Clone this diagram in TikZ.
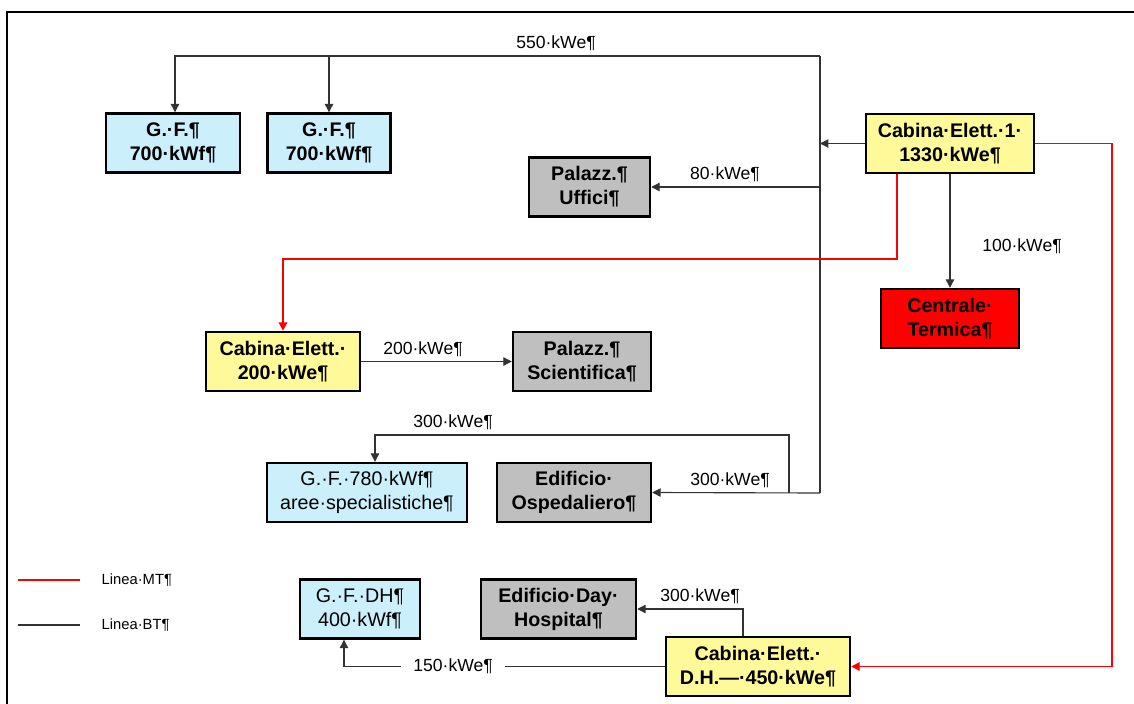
\documentclass[tikz,border=0pt]{standalone}
\usepackage{fontspec}
\setmainfont{Liberation Sans}
\usetikzlibrary{arrows.meta,positioning}

\tikzset{
	plant/.style={draw, line width=1.7pt, inner sep=0pt, align=center, minimum height=1.475cm, font=\fontsize{14}{17}\selectfont\bfseries},
	gfbox/.style={plant, fill=cyan!20},
	gfthin/.style={gfbox, font=\fontsize{14}{17}\selectfont},
	cabbox/.style={plant, fill=yellow!40},
	edbox/.style={plant, fill=black!25},
	ctbox/.style={plant, fill=red},
	bt/.style={draw=black!80, line width=0.8pt, -{Triangle[length=6pt,width=6pt]}},
	btline/.style={draw=black!80, line width=0.8pt},
	mt/.style={draw=red, line width=1.4pt, -{Triangle[length=6pt,width=6pt]}},
	mtline/.style={draw=red, line width=1.4pt},
	kw/.style={font=\fontsize{12.5}{14}\selectfont, inner sep=1pt}
}

\begin{document}
\begin{tikzpicture}[x=0.025cm, y=-0.025cm]
	\useasboundingbox (0,0) rectangle (1134,704);
	\draw[line width=1.4pt] (7,704) -- (7,12) -- (1134,12);

	\node[gfbox, minimum width=3.35cm] (gfA) at (173,143) {G.·F.¶\\700·kWf¶};
	\node[gfbox, minimum width=3.075cm] (gfB) at (329,143) {G.·F.¶\\700·kWf¶};
	\node[cabbox, minimum width=4.2cm] (cabUno) at (950,143.5) {Cabina·Elett.·1·\\1330·kWe¶};
	\node[edbox, minimum width=3.025cm] (uffici) at (589.5,187) {Palazz.¶\\Uffici¶};
	\node[ctbox, minimum width=3.45cm] (termica) at (950,318.5) {Centrale·\\Termica¶};
	\node[cabbox, minimum width=3.85cm] (cabDue) at (283,361.5) {Cabina·Elett.·\\200·kWe¶};
	\node[edbox, minimum width=3.45cm] (scient) at (582,361.5) {Palazz.¶\\Scientifica¶};
	\node[gfthin, minimum width=5cm] (gfSpec) at (367,492.5) {G.·F.·780·kWf¶\\aree·specialistiche¶};
	\node[edbox, minimum width=3.85cm] (osped) at (574,492.5) {Edificio·\\Ospedaliero¶};
	\node[gfthin, minimum width=3cm] (gfDH) at (360,609) {G.·F.·DH¶\\400·kWf¶};
	\node[edbox, minimum width=3.875cm] (dayHosp) at (558.5,609) {Edificio·Day·\\Hospital¶};
	\node[cabbox, minimum width=4.6cm] (cabDH) at (758,666.5) {Cabina·Elett.·\\D.H.—·450·kWe¶};

	\coordinate (busTop) at (820,56);
	\coordinate (busBot) at (820,493);
	\coordinate (tapSpec) at (789,493);
	\coordinate (mtRight) at (1112,400);

	\draw[btline] (busTop) -- (busBot);
	\draw[bt] (busTop) -| ([xshift=0.05cm]gfA.north);
	\draw[bt] (busTop -| gfB.north) -- (gfB.north);
	\node[kw] (kwA) at (556,43) {550·kWe¶};
	\draw[bt] (cabUno.west) -- (cabUno.west -| busTop);
	\draw[bt] (busTop |- uffici.east) -- (uffici.east);
	\node[kw] (kwB) at (725,174) {80·kWe¶};
	\draw[bt] (busBot) -- (osped.east);
	\node[kw] (kwC) at (730,480) {300·kWe¶};
	\draw[bt] (tapSpec) -- ++(0,-58) -| ([xshift=0.2cm]gfSpec.north);
	\node[kw] (kwD) at (453,422) {300·kWe¶};
	\draw[bt] (cabUno.south) -- (termica.north);
	\node[kw] (kwE) at (1022,246) {100·kWe¶};
	\draw[bt] (cabDue.east) -- (scient.west);
	\node[kw] (kwF) at (423,349) {200·kWe¶};
	\draw[bt] ([xshift=-0.375cm]cabDH.north) |- (dayHosp.east);
	\node[kw] (kwG) at (700,596) {300·kWe¶};
	\draw[bt] (cabDH.west) -| node[kw, pos=0.33, fill=white, inner xsep=0.3cm] (kwH) {150·kWe¶} ([xshift=-0.4cm]gfDH.south);

	\draw[mt] ([xshift=-1.325cm]cabUno.south) |- (cabDue.north |- 0,259) -- (cabDue.north);
	\draw[mt] (cabUno.east) -| (mtRight) |- (cabDH.east);

	\coordinate (legMTa) at (18,580);
	\coordinate (legMTb) at (80,580);
	\coordinate (legBTa) at (18,625);
	\coordinate (legBTb) at (80,625);
	\draw[mtline, line width=1pt] (legMTa) -- (legMTb);
	\draw[btline] (legBTa) -- (legBTb);
	\node[kw, anchor=west, font=\fontsize{10.5}{12}\selectfont] (legMT) at (100,580) {Linea·MT¶};
	\node[kw, anchor=west, font=\fontsize{10.5}{12}\selectfont] (legBT) at (100,625) {Linea·BT¶};
\end{tikzpicture}
\end{document}
